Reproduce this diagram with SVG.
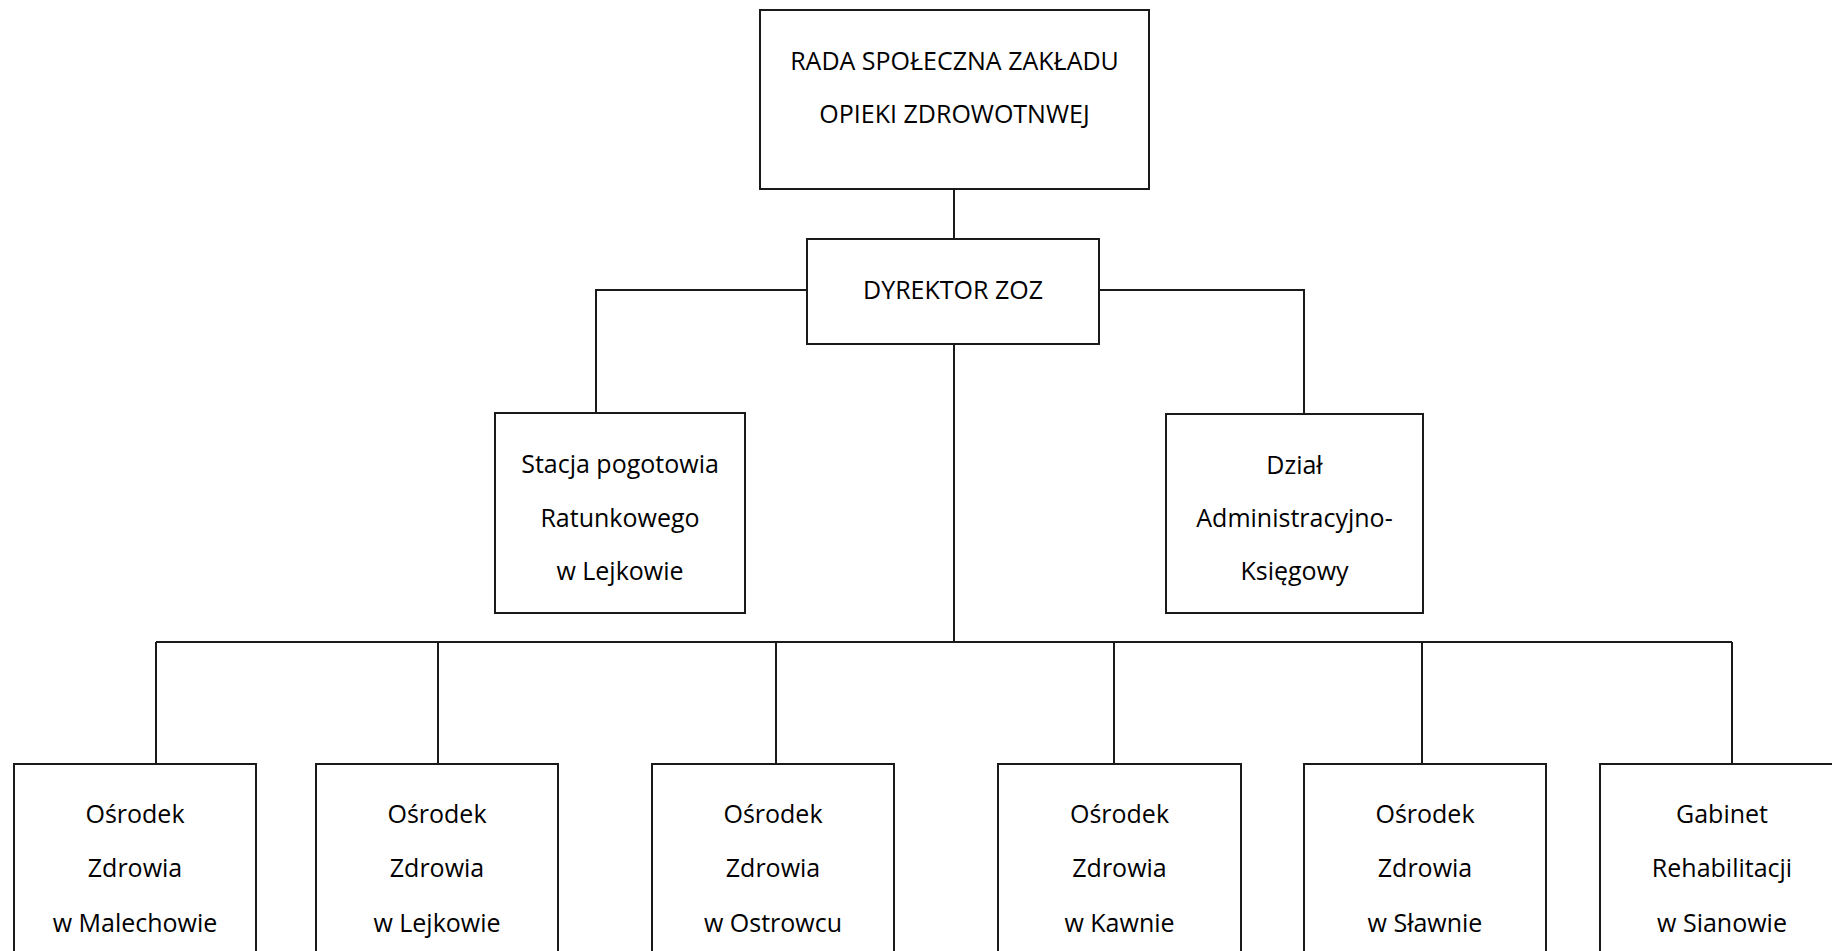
<svg xmlns="http://www.w3.org/2000/svg" width="1832" height="951" viewBox="0 0 1832 951">
<style>
.box{fill:#fff;stroke:#1a1a1a;stroke-width:2}
.ln{fill:none;stroke:#1a1a1a;stroke-width:2}
text{font-family:"Open Sans","Noto Sans",sans-serif;font-size:25px;fill:#000;text-anchor:middle}
</style>
<rect width="1832" height="951" fill="#fff"/>
<g id="connectors">
<path class="ln" d="M954,189V239"/>
<path class="ln" d="M807,290H596V413"/>
<path class="ln" d="M1099,290H1304V414"/>
<path class="ln" d="M954,344V642"/>
<path class="ln" d="M156,642H1732"/>
<path class="ln" d="M156,642V764M438,642V764M776,642V764M1114,642V764M1422,642V764M1732,642V764"/>
</g>
<g id="rada">
<rect class="box" x="760" y="10" width="389" height="179"/>
<text x="954.5" y="70">RADA SPOŁECZNA ZAKŁADU</text>
<text x="954.5" y="123">OPIEKI ZDROWOTNWEJ</text>
</g>
<g id="dyrektor">
<rect class="box" x="807" y="239" width="292" height="105"/>
<text x="953" y="299">DYREKTOR ZOZ</text>
</g>
<g id="stacja">
<rect class="box" x="495" y="413" width="250" height="200"/>
<text x="620" y="473">Stacja pogotowia</text>
<text x="620" y="527">Ratunkowego</text>
<text x="620" y="580">w Lejkowie</text>
</g>
<g id="dzial">
<rect class="box" x="1166" y="414" width="257" height="199"/>
<text x="1294.5" y="474">Dział</text>
<text x="1294.5" y="527">Administracyjno-</text>
<text x="1294.5" y="580">Księgowy</text>
</g>
<g id="malechowo">
<rect class="box" x="14" y="764" width="242" height="200"/>
<text x="135" y="823">Ośrodek</text>
<text x="135" y="877">Zdrowia</text>
<text x="135" y="932">w Malechowie</text>
</g>
<g id="lejkowo">
<rect class="box" x="316" y="764" width="242" height="200"/>
<text x="437" y="823">Ośrodek</text>
<text x="437" y="877">Zdrowia</text>
<text x="437" y="932">w Lejkowie</text>
</g>
<g id="ostrowiec">
<rect class="box" x="652" y="764" width="242" height="200"/>
<text x="773" y="823">Ośrodek</text>
<text x="773" y="877">Zdrowia</text>
<text x="773" y="932">w Ostrowcu</text>
</g>
<g id="kawno">
<rect class="box" x="998" y="764" width="243" height="200"/>
<text x="1119.5" y="823">Ośrodek</text>
<text x="1119.5" y="877">Zdrowia</text>
<text x="1119.5" y="932">w Kawnie</text>
</g>
<g id="slawno">
<rect class="box" x="1304" y="764" width="242" height="200"/>
<text x="1425" y="823">Ośrodek</text>
<text x="1425" y="877">Zdrowia</text>
<text x="1425" y="932">w Sławnie</text>
</g>
<g id="gabinet">
<rect class="box" x="1600" y="764" width="244" height="200"/>
<text x="1722" y="823">Gabinet</text>
<text x="1722" y="877">Rehabilitacji</text>
<text x="1722" y="932">w Sianowie</text>
</g>
</svg>
